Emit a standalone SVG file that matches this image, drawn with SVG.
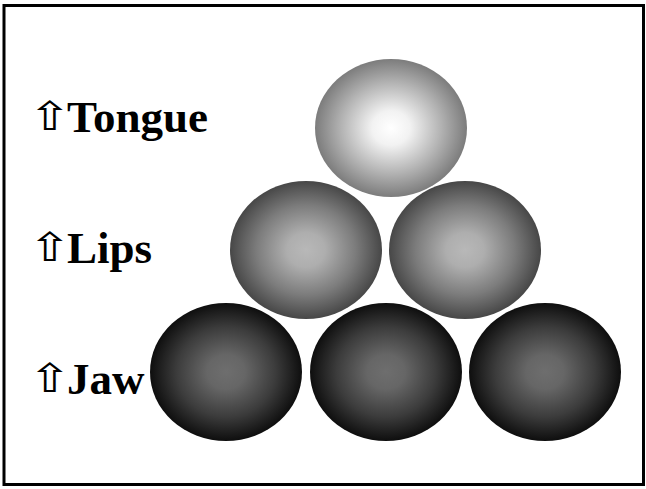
<svg xmlns="http://www.w3.org/2000/svg" width="646" height="489" viewBox="0 0 646 489">
<defs>
<radialGradient id="gTop" cx="50%" cy="50%" r="50%">
<stop offset="0" stop-color="#ffffff"/>
<stop offset="0.25" stop-color="#f2f2f2"/>
<stop offset="0.65" stop-color="#b4b4b4"/>
<stop offset="1" stop-color="#7c7c7c"/>
</radialGradient>
<radialGradient id="gMid" cx="50%" cy="50%" r="50%">
<stop offset="0" stop-color="#b8b8b8"/>
<stop offset="0.25" stop-color="#aeaeae"/>
<stop offset="0.65" stop-color="#7c7c7c"/>
<stop offset="1" stop-color="#474747"/>
</radialGradient>
<radialGradient id="gBot" cx="50%" cy="50%" r="50%">
<stop offset="0" stop-color="#6e6e6e"/>
<stop offset="0.25" stop-color="#666666"/>
<stop offset="0.65" stop-color="#3c3c3c"/>
<stop offset="1" stop-color="#0e0e0e"/>
</radialGradient>
</defs>
<style>
.lbl{font-family:"Liberation Serif","Times New Roman",serif;font-weight:bold;font-size:45px;fill:#000}
.arr{font-family:"DejaVu Sans",sans-serif;font-weight:normal;font-size:40px;fill:#000}
</style>
<rect x="4" y="5.5" width="639.5" height="479" fill="#fff" stroke="#000" stroke-width="3"/>
<g id="tongue"><ellipse cx="391" cy="128" rx="76" ry="69" fill="url(#gTop)"/></g>
<g id="lips1"><ellipse cx="306" cy="250" rx="76" ry="69" fill="url(#gMid)"/></g>
<g id="lips2"><ellipse cx="465" cy="250" rx="76" ry="69" fill="url(#gMid)"/></g>
<g id="jaw1"><ellipse cx="226" cy="372" rx="76" ry="69" fill="url(#gBot)"/></g>
<g id="jaw2"><ellipse cx="386" cy="372" rx="76" ry="69" fill="url(#gBot)"/></g>
<g id="jaw3"><ellipse cx="545" cy="372" rx="76" ry="69" fill="url(#gBot)"/></g>
<g id="label-tongue"><text y="132"><tspan class="arr" x="28" y="130" textLength="44" lengthAdjust="spacingAndGlyphs">⇧</tspan><tspan class="lbl" x="67" y="132">Tongue</tspan></text></g>
<g id="label-lips"><text y="263"><tspan class="arr" x="28" y="261" textLength="44" lengthAdjust="spacingAndGlyphs">⇧</tspan><tspan class="lbl" x="67" y="263">Lips</tspan></text></g>
<g id="label-jaw"><text y="394"><tspan class="arr" x="28" y="392" textLength="44" lengthAdjust="spacingAndGlyphs">⇧</tspan><tspan class="lbl" x="67" y="394">Jaw</tspan></text></g>
</svg>
